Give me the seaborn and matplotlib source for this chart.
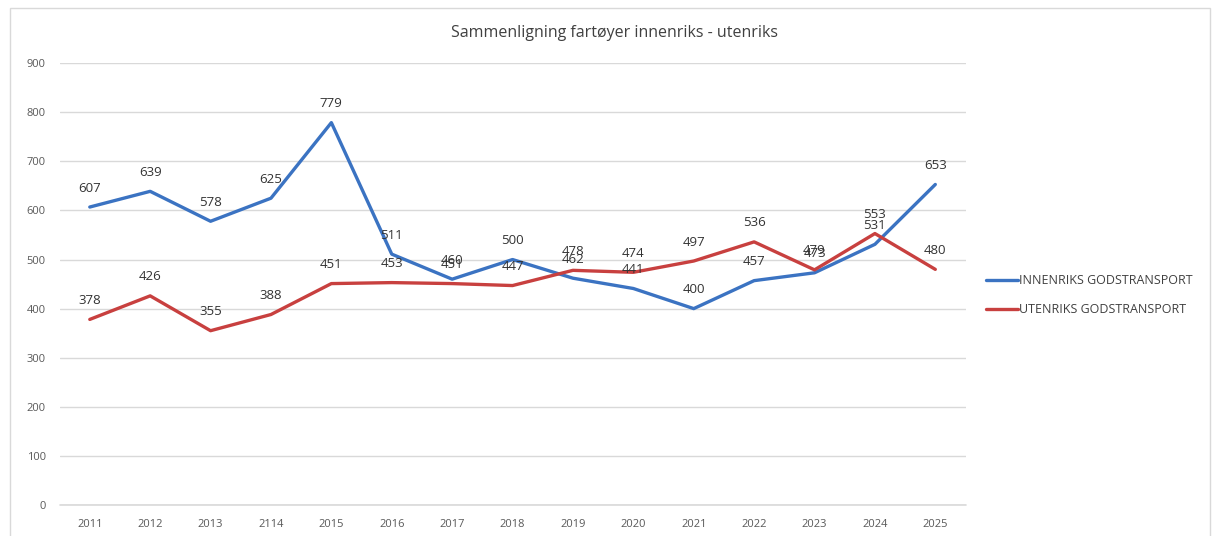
import pandas as pd
import matplotlib.pyplot as plt
import matplotlib.patches as mpatches
import seaborn as sns

years = ['2011', '2012', '2013', '2114', '2015', '2016', '2017', '2018',
         '2019', '2020', '2021', '2022', '2023', '2024', '2025']
innenriks = [607, 639, 578, 625, 779, 511, 460, 500, 462, 441, 400, 457, 473, 531, 653]
utenriks = [378, 426, 355, 388, 451, 453, 451, 447, 478, 474, 497, 536, 479, 553, 480]
series_names = ['INNENRIKS GODSTRANSPORT', 'UTENRIKS GODSTRANSPORT']
colors = ['#3b73c2', '#c8403f']

df = pd.DataFrame({
    'year': years * 2,
    'x': list(range(len(years))) * 2,
    'value': innenriks + utenriks,
    'serie': [series_names[0]] * len(years) + [series_names[1]] * len(years),
})

sns.set_style('white')
plt.rcParams['font.family'] = ['Open Sans', 'DejaVu Sans']

fig = plt.figure(figsize=(12.16, 5.36), dpi=100)
ax = fig.add_axes([0.049, 0.058, 0.745, 0.824])

sns.lineplot(data=df, x='x', y='value', hue='serie', palette=colors,
             linewidth=2.4, ax=ax, legend=True)

# data labels
for vals in (innenriks, utenriks):
    for i, v in enumerate(vals):
        ax.annotate(str(v), (i, v), xytext=(0, 9), textcoords='offset points',
                    ha='center', va='bottom', fontsize=9.5, color='#333333')

ax.set_xlim(-0.5, len(years) - 0.5)
ax.set_ylim(0, 900)
ax.set_yticks(range(0, 901, 100))
ax.set_xticks(range(len(years)))
ax.set_xticklabels(years)
ax.tick_params(axis='both', labelsize=8, colors='#595959', length=0, pad=10)
ax.grid(axis='y', color='#d9d9d9', linewidth=1)
ax.axhline(0, color='#d9d9d9', linewidth=1.2, clip_on=False, zorder=0)
for s in ax.spines.values():
    s.set_visible(False)
ax.set_xlabel('')
ax.set_ylabel('')

ax.legend(loc='center left', bbox_to_anchor=(1.01, 0.475), frameon=False,
          fontsize=9, handlelength=2.6, handletextpad=0.05, labelspacing=1.3,
          labelcolor='#404040')

fig.text(0.505, 0.938, 'Sammenligning fartøyer innenriks - utenriks',
         ha='center', va='center', fontsize=11.5, color='#404040')

# chart border
fig.patches.append(mpatches.Rectangle((0.008, -0.01), 0.987, 0.995,
                                      transform=fig.transFigure, fill=False,
                                      edgecolor='#d9d9d9', linewidth=1))

fig.savefig('out.png', dpi=100)
